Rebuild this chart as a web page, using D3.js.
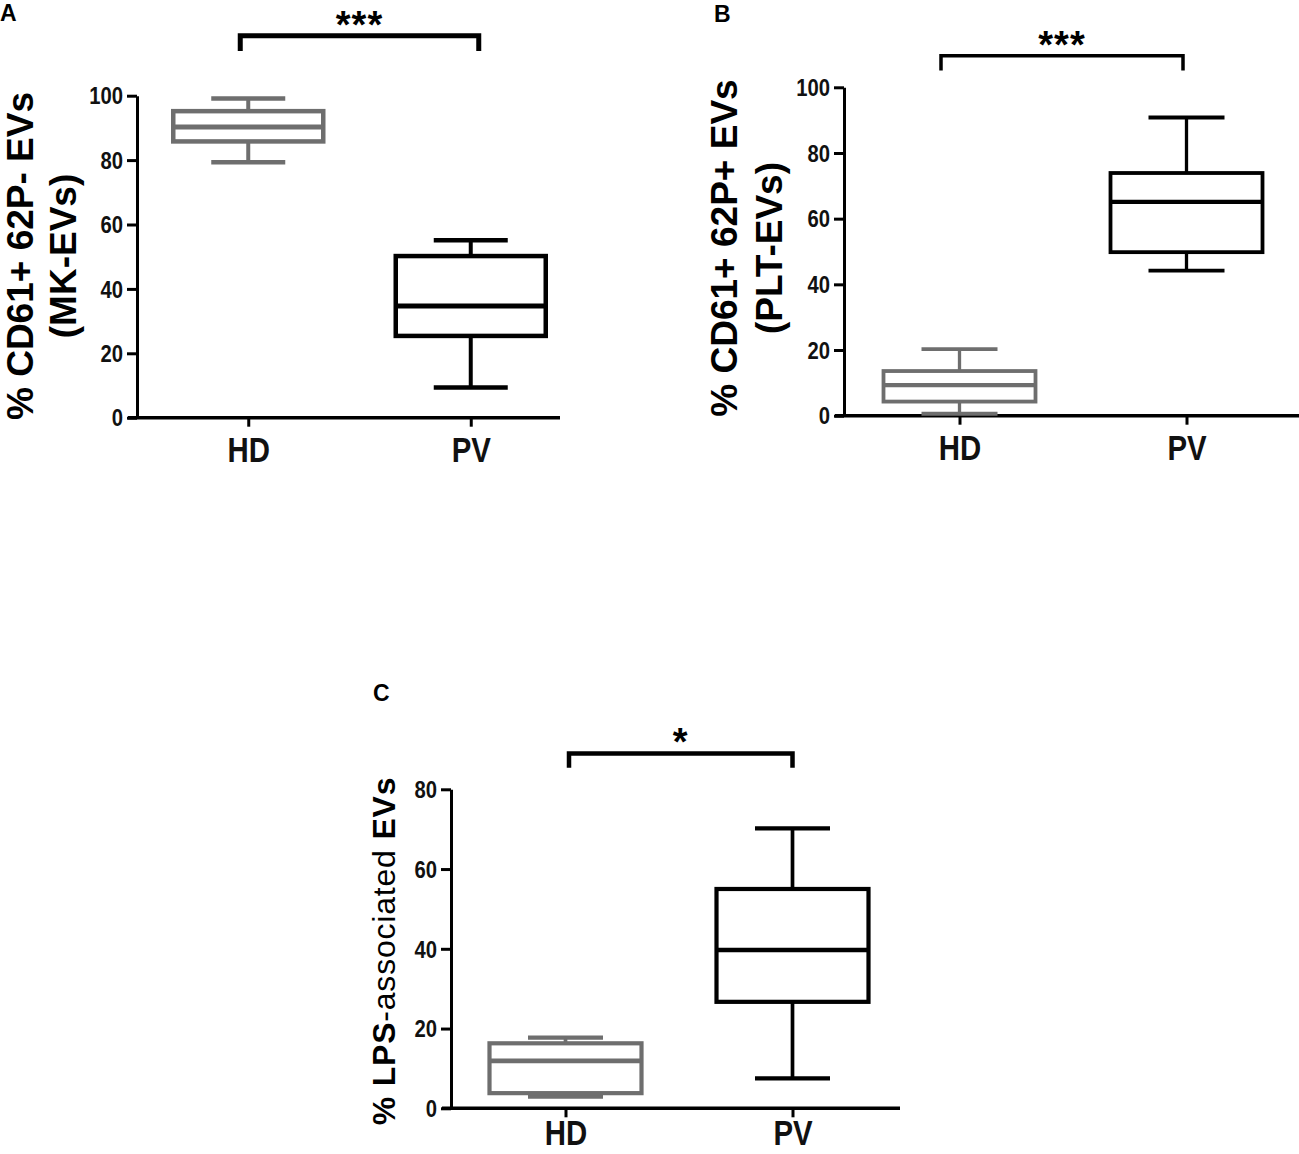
<!DOCTYPE html>
<html>
<head>
<meta charset="utf-8">
<script src="https://cdn.jsdelivr.net/npm/d3@7"></script>
<style>
  body { margin: 0; background: #fff; }
  svg text { font-family: "Liberation Sans", Arial, sans-serif; }
  .tick text { font-family: "Liberation Sans", Arial, sans-serif; font-weight: bold; fill: #111; }
</style>
</head>
<body>
<svg id="fig" width="1299" height="1154"></svg>
<script>
// categories
const groups = ["HD", "PV"];

// box stats: [min, q1, median, q3, max]
const boxA_HD = [79.3, 85.8, 90.3, 95.2, 99.1];
const boxA_PV = [9.4, 25.4, 34.7, 50.2, 55.1];
const boxB_HD = [0.6, 4.3, 9.3, 13.6, 20.3];
const boxB_PV = [44.2, 49.8, 65.1, 73.9, 90.8];
const boxC_HD = [2.9, 3.8, 11.9, 16.3, 17.7];
const boxC_PV = [7.5, 26.7, 39.7, 55.0, 70.2];

// y tick labels
const ticksAB = [0, 20, 40, 60, 80, 100];
const ticksC = [0, 20, 40, 60, 80];

// significance brackets: [bar level, leg bottom] in data units
const bracketA = [118.6, 113.9];
const bracketB = [109.6, 105.1];
const bracketC = [89.0, 85.4];

const colors = { HD: "#6e6e6e", PV: "#000" };
const squeeze = 0.88; // slightly condensed tick labels

const panels = [
  { letter: "A", lx: 0, ly: 21, boxes: [boxA_HD, boxA_PV], ticks: ticksAB, yMax: 100,
    x0: 137, y0: 417.7, yTop: 95.7, xRange: [137, 582], xEnd: 560, labY: 44,
    bw: 150, cw: 74, sw: 4.5, bracket: bracketA, bOff: [-8, 8], bw2: 5, stars: "***",
    title: ["% CD61+ 62P- EVs", "(MK-EVs)"], tx: [33, 76], ty: 256 },
  { letter: "B", lx: 714, ly: 22, boxes: [boxB_HD, boxB_PV], ticks: ticksAB, yMax: 100,
    x0: 844, y0: 415.7, yTop: 87.3, xRange: [846, 1300], xEnd: 1299, labY: 44,
    bw: 152, cw: 76, sw: 3.8, bracket: bracketB, bOff: [-18.5, -3.5], bw2: 3.5, stars: "***",
    title: ["% CD61+ 62P+ EVs", "(PLT-EVs)"], tx: [737, 782], ty: 248 },
  { letter: "C", lx: 373, ly: 701, boxes: [boxC_HD, boxC_PV], ticks: ticksC, yMax: 80,
    x0: 451, y0: 1108.3, yTop: 789.3, xRange: [452, 906], xEnd: 900, labY: 36.5,
    bw: 152, cw: 75, sw: 4.2, bracket: bracketC, bOff: [3.5, 0], bw2: 4.5, stars: "*",
    title: null, tx: [395], ty: 951 }
];

const svg = d3.select("#fig");

panels.forEach(p => {
  const g = svg.append("g");

  let y = d3.scaleLinear().domain([0, p.yMax]).range([p.y0, p.yTop]);
  let x = d3.scalePoint().domain(groups).range(p.xRange).padding(0.5);

  // panel letter
  g.append("text").attr("x", p.lx).attr("y", p.ly)
    .attr("font-size", 23).attr("font-weight", "bold").text(p.letter);

  // y axis
  let yAxis = g.append("g").attr("transform", "translate(" + p.x0 + ",0)")
    .call(d3.axisLeft(y).tickValues(p.ticks).tickSize(10).tickPadding(4).tickSizeOuter(0));
  yAxis.select(".domain").attr("stroke", "#000").attr("stroke-width", 3);
  yAxis.selectAll(".tick line").attr("stroke", "#000").attr("stroke-width", 3);
  yAxis.selectAll(".tick text").attr("font-size", 23).attr("dy", "0.36em")
    .attr("x", -14 / squeeze).attr("transform", "scale(" + squeeze + ",1)");

  // x axis
  let xAxis = g.append("g").attr("transform", "translate(0," + p.y0 + ")")
    .call(d3.axisBottom(x).tickSize(9).tickSizeOuter(0));
  xAxis.select(".domain").attr("d", "M" + (p.x0 - 9) + ",0H" + p.xEnd)
    .attr("stroke", "#000").attr("stroke-width", 3.5);
  xAxis.selectAll(".tick line").attr("stroke", "#000").attr("stroke-width", 3);
  xAxis.selectAll(".tick text").attr("font-size", 35).attr("y", p.labY).attr("dy", 0)
    .attr("transform", "scale(0.84,1)");

  // boxes
  groups.forEach((name, i) => {
    let d = p.boxes[i];
    let cx = x(name);
    let c = colors[name];
    let bg = g.append("g").attr("stroke", c).attr("fill", "none");
    // whiskers
    bg.append("line").attr("x1", cx).attr("x2", cx).attr("y1", y(d[3])).attr("y2", y(d[4])).attr("stroke-width", p.sw - 0.5);
    bg.append("line").attr("x1", cx).attr("x2", cx).attr("y1", y(d[1])).attr("y2", y(d[0])).attr("stroke-width", p.sw - 0.5);
    bg.append("line").attr("x1", cx - p.cw / 2).attr("x2", cx + p.cw / 2).attr("y1", y(d[4])).attr("y2", y(d[4])).attr("stroke-width", p.sw);
    bg.append("line").attr("x1", cx - p.cw / 2).attr("x2", cx + p.cw / 2).attr("y1", y(d[0])).attr("y2", y(d[0])).attr("stroke-width", p.sw);
    // box
    bg.append("rect").attr("x", cx - p.bw / 2).attr("width", p.bw)
      .attr("y", y(d[3])).attr("height", y(d[1]) - y(d[3]))
      .attr("fill", "#fff").attr("stroke-width", p.sw);
    // median
    bg.append("line").attr("x1", cx - p.bw / 2).attr("x2", cx + p.bw / 2)
      .attr("y1", y(d[2])).attr("y2", y(d[2])).attr("stroke-width", p.sw + 0.5);
  });

  // significance bracket
  let bx1 = x(groups[0]) + p.bOff[0];
  let bx2 = x(groups[1]) + p.bOff[1];
  let by = y(p.bracket[0]);
  let byl = y(p.bracket[1]);
  g.append("path")
    .attr("d", "M" + bx1 + "," + byl + "V" + by + "H" + bx2 + "V" + byl)
    .attr("fill", "none").attr("stroke", "#000").attr("stroke-width", p.bw2);
  g.append("text").attr("x", (bx1 + bx2) / 2).attr("y", by + 2)
    .attr("text-anchor", "middle").attr("font-size", 38).attr("font-weight", "bold")
    .attr("letter-spacing", 1).text(p.stars);

  // y titles
  if (p.title) {
    p.title.forEach((t, k) => {
      g.append("text")
        .attr("transform", "translate(" + p.tx[k] + "," + p.ty + ") rotate(-90)")
        .attr("text-anchor", "middle").attr("font-size", 37).attr("font-weight", "bold")
        .text(t);
    });
  } else {
    let t = g.append("text")
      .attr("transform", "translate(" + p.tx[0] + "," + p.ty + ") rotate(-90)")
      .attr("text-anchor", "middle").attr("font-size", 32).attr("font-weight", "bold")
      .attr("letter-spacing", 0.8);
    t.append("tspan").text("% LPS");
    t.append("tspan").attr("font-weight", "normal").text("-associated");
    t.append("tspan").text(" EVs");
  }
});
</script>
</body>
</html>
